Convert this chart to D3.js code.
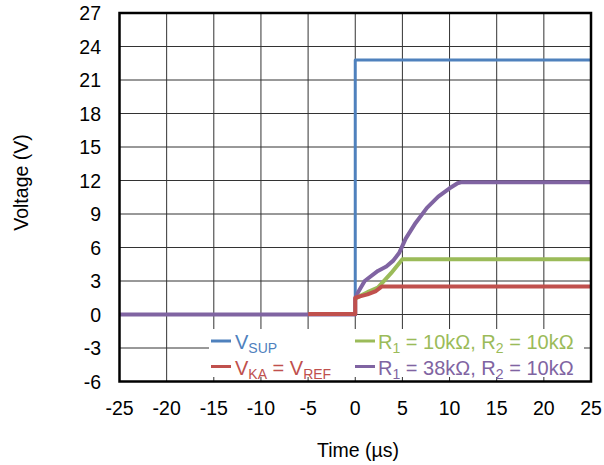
<!DOCTYPE html>
<html>
<head>
<meta charset="utf-8">
<script src="https://cdn.jsdelivr.net/npm/d3@7/dist/d3.min.js"></script>
<style>
  body { margin: 0; background: #fff; }
  svg { font-family: "Liberation Sans", Arial, sans-serif; }
</style>
</head>
<body>
<div id="chart"></div>
<script>
// traces (time in µs, voltage in V)
var supTime = [-25, 0, 0, 25];
var supVolt = [0, 0, 22.8, 22.8];

var kaTime = [-5, 0, 0, 0.6, 1.3, 2.2, 2.8, 25];
var kaVolt = [0.05, 0.05, 1.5, 1.65, 1.8, 2.1, 2.5, 2.5];

var r10Time = [0, 0.6, 1.3, 2.4, 3.8, 5.0, 25];
var r10Volt = [1.4, 1.7, 2.0, 2.4, 3.7, 4.95, 4.95];

var r38Time = [-25, 0, 0, 0.3, 1.0, 2.4, 3.3, 4.0, 4.65, 5.35, 6.4, 7.6, 8.8, 10.0, 10.85, 11.3, 25];
var r38Volt = [0, 0, 1.4, 2.0, 3.0, 3.9, 4.3, 4.8, 5.5, 6.8, 8.2, 9.55, 10.55, 11.3, 11.75, 11.85, 11.85];

var xTicks = [-25, -20, -15, -10, -5, 0, 5, 10, 15, 20, 25];
var yTicks = [-6, -3, 0, 3, 6, 9, 12, 15, 18, 21, 24, 27];

var width = 604, height = 465;
var plotL = 119.5, plotR = 591, plotT = 13, plotB = 381.5;

var svg = d3.select("#chart").append("svg")
  .attr("width", width)
  .attr("height", height);

var x = d3.scaleLinear().domain([-25, 25]).range([plotL, plotR]);
var y = d3.scaleLinear().domain([-6, 27]).range([plotB, plotT]);

// grid
svg.append("g").selectAll("line")
  .data(xTicks).enter().append("line")
  .attr("x1", function(d) { return x(d); })
  .attr("x2", function(d) { return x(d); })
  .attr("y1", plotT).attr("y2", plotB)
  .attr("stroke", "#333").attr("stroke-width", 1);

svg.append("g").selectAll("line")
  .data(yTicks).enter().append("line")
  .attr("y1", function(d) { return y(d); })
  .attr("y2", function(d) { return y(d); })
  .attr("x1", plotL).attr("x2", plotR)
  .attr("stroke", "#333").attr("stroke-width", 1);

// tick labels
svg.append("g").selectAll("text")
  .data(yTicks).enter().append("text")
  .attr("x", 101)
  .attr("y", function(d) { return y(d) + 7; })
  .attr("text-anchor", "end")
  .attr("font-size", 19.5)
  .text(function(d) { return d; });

svg.append("g").selectAll("text")
  .data(xTicks).enter().append("text")
  .attr("x", function(d) { return x(d); })
  .attr("y", 415)
  .attr("text-anchor", "middle")
  .attr("font-size", 19.5)
  .text(function(d) { return d; });

// axis titles
svg.append("text")
  .attr("transform", "translate(28,182.5) rotate(-90)")
  .attr("text-anchor", "middle")
  .attr("font-size", 19.5)
  .text("Voltage (V)");

svg.append("text")
  .attr("x", 358).attr("y", 457)
  .attr("text-anchor", "middle")
  .attr("font-size", 19.5)
  .text("Time (µs)");

// traces
svg.append("clipPath").attr("id", "plot")
  .append("rect")
  .attr("x", plotL).attr("y", plotT)
  .attr("width", plotR - plotL).attr("height", plotB - plotT);

var line = d3.line()
  .x(function(d) { return x(d[0]); })
  .y(function(d) { return y(d[1]); });

var traces = [
  { t: supTime, v: supVolt, color: "#4f81bd", w: 3 },
  { t: r38Time, v: r38Volt, color: "#8064a2", w: 4 },
  { t: r10Time, v: r10Volt, color: "#9bbb59", w: 4 },
  { t: kaTime, v: kaVolt, color: "#c0504d", w: 4 }
];

svg.append("g").attr("clip-path", "url(#plot)")
  .selectAll("path")
  .data(traces).enter().append("path")
  .attr("d", function(d) { return line(d3.zip(d.t, d.v)); })
  .attr("fill", "none")
  .attr("stroke", function(d) { return d.color; })
  .attr("stroke-width", function(d) { return d.w; })
  .attr("stroke-linejoin", "round");

// legend
svg.append("rect")
  .attr("x", 209).attr("y", 329)
  .attr("width", 375).attr("height", 48)
  .attr("fill", "#fff");

var legend = [
  { col: 0, row: 0, color: "#4f81bd", parts: [["V", 0], ["SUP", 1]] },
  { col: 0, row: 1, color: "#c0504d", parts: [["V", 0], ["KA", 1], [" = V", 0], ["REF", 1]] },
  { col: 1, row: 0, color: "#9bbb59", parts: [["R", 0], ["1", 1], [" = 10kΩ, R", 0], ["2", 1], [" = 10kΩ", 0]] },
  { col: 1, row: 1, color: "#8064a2", parts: [["R", 0], ["1", 1], [" = 38kΩ, R", 0], ["2", 1], [" = 10kΩ", 0]] }
];
var colLine = [211, 355], colText = [235, 378];

var item = svg.append("g").selectAll("g")
  .data(legend).enter().append("g");

item.append("line")
  .attr("x1", function(d) { return colLine[d.col]; })
  .attr("x2", function(d) { return colLine[d.col] + 20; })
  .attr("y1", function(d) { return 341 + d.row * 25.5; })
  .attr("y2", function(d) { return 341 + d.row * 25.5; })
  .attr("stroke", function(d) { return d.color; })
  .attr("stroke-width", 3);

var label = item.append("text")
  .attr("x", function(d) { return colText[d.col]; })
  .attr("y", function(d) { return 349 + d.row * 25.5; })
  .attr("fill", function(d) { return d.color; })
  .attr("font-size", 20);

label.each(function(d) {
  var t = d3.select(this), prev = 0;
  d.parts.forEach(function(p) {
    var dy = p[1] ? 4 : 0;
    t.append("tspan")
      .attr("dy", dy - prev)
      .attr("font-size", p[1] ? 14 : 20)
      .text(p[0]);
    prev = dy;
  });
});

// plot frame
svg.append("rect")
  .attr("x", plotL).attr("y", plotT)
  .attr("width", plotR - plotL).attr("height", plotB - plotT)
  .attr("fill", "none")
  .attr("stroke", "#000")
  .attr("stroke-width", 2.5);
</script>
</body>
</html>
